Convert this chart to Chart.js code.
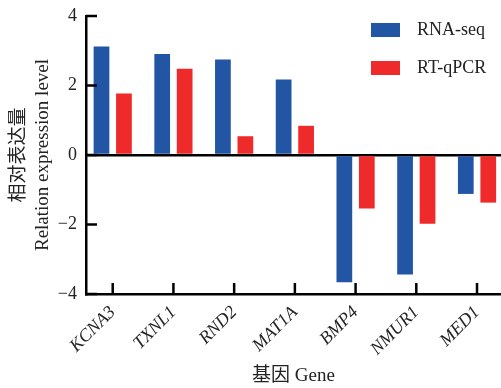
<!DOCTYPE html>
<html>
<head>
<meta charset="utf-8">
<script src="https://cdn.jsdelivr.net/npm/chart.js@4.4.0/dist/chart.umd.min.js"></script>
<style>
  body { margin: 0; background: #fff; }
</style>
</head>
<body>
<canvas id="myChart" width="501" height="388"></canvas>
<script>
// data
let genes = ['KCNA3', 'TXNL1', 'RND2', 'MAT1A', 'BMP4', 'NMUR1', 'MED1'];
let rnaSeq = [3.12, 2.91, 2.75, 2.17, -3.66, -3.44, -1.12];
let rtqPCR = [1.77, 2.48, 0.54, 0.84, -1.54, -1.98, -1.37];
let yTicks = [-4, -2, 0, 2, 4];
let seriesNames = ['RNA-seq', 'RT-qPCR'];
let seriesColors = ['#2255a4', '#ee2a2a'];

let serif = "'Liberation Serif', 'Noto Sans CJK SC', serif";

// tick marks pointing into the plot
let innerTicks = {
  id: 'innerTicks',
  afterDraw(chart) {
    let ctx = chart.ctx;
    let area = chart.chartArea;
    let x = chart.scales.x;
    let y = chart.scales.y;
    ctx.save();
    ctx.strokeStyle = '#000';
    ctx.lineWidth = 2.5;
    ctx.beginPath();
    y.ticks.forEach((t) => {
      let py = y.getPixelForValue(t.value);
      ctx.moveTo(area.left, py);
      ctx.lineTo(area.left + 11, py);
    });
    x.ticks.forEach((t) => {
      let px = x.getPixelForValue(t.value);
      ctx.moveTo(px, area.bottom);
      ctx.lineTo(px, area.bottom - 11);
    });
    ctx.stroke();
    ctx.restore();
  }
};

// legend in the top right corner of the plot
let cornerLegend = {
  id: 'cornerLegend',
  afterDraw(chart) {
    let ctx = chart.ctx;
    let area = chart.chartArea;
    ctx.save();
    ctx.font = '18px ' + serif;
    ctx.textBaseline = 'middle';
    chart.data.datasets.forEach((ds, i) => {
      let bx = area.right - 130;
      let by = area.top + 7 + i * 38;
      ctx.fillStyle = ds.backgroundColor;
      ctx.fillRect(bx, by, 29, 14);
      ctx.fillStyle = '#222';
      ctx.fillText(ds.label, bx + 46, by + 7);
    });
    ctx.restore();
  }
};

function points(values) {
  return values.map((v, i) => ({ x: i, y: v }));
}

var data = {
  datasets: [
    {
      label: seriesNames[0],
      data: points(rnaSeq),
      backgroundColor: seriesColors[0],
      categoryPercentage: 0.74,
      barPercentage: 0.7
    },
    {
      label: seriesNames[1],
      data: points(rtqPCR),
      backgroundColor: seriesColors[1],
      categoryPercentage: 0.74,
      barPercentage: 0.7
    }
  ]
};

var options = {
  responsive: false,
  animation: false,
  layout: { padding: { top: 16, right: 0, left: 0, bottom: 0 } },
  plugins: {
    legend: { display: false },
    tooltip: { enabled: false }
  },
  scales: {
    x: {
      type: 'linear',
      position: 'bottom',
      min: -0.44,
      max: 6.395,
      offset: false,
      grid: { display: false, offset: false },
      border: { color: '#000', width: 2.5 },
      afterFit: (s) => { s.height = 94; },
      ticks: {
        stepSize: 1,
        includeBounds: false,
        autoSkip: false,
        minRotation: 45,
        maxRotation: 45,
        padding: 0,
        color: '#222',
        font: { family: serif, size: 18, style: 'italic' },
        callback: (v) => genes[v] || ''
      },
      title: {
        display: true,
        text: '基因 Gene',
        color: '#222',
        font: { family: serif, size: 19 },
        padding: { top: 0, bottom: 1 }
      }
    },
    y: {
      min: -4,
      max: 4,
      afterFit: (s) => {
        s.width = 86;
        s.paddingTop = 0;
        s.paddingBottom = 0;
      },
      afterBuildTicks: (s) => { s.ticks = yTicks.map((v) => ({ value: v })); },
      border: { color: '#000', width: 2.5 },
      grid: {
        drawTicks: false,
        lineWidth: 2.5,
        color: (c) => (c.tick && c.tick.value === 0 ? '#000' : 'rgba(0,0,0,0)')
      },
      ticks: {
        padding: 9,
        color: '#222',
        font: { family: serif, size: 18 },
        callback: (v) => (v < 0 ? '\u2212' + Math.abs(v) : '' + v)
      },
      title: {
        display: true,
        text: ['相对表达量', 'Relation expression level'],
        color: '#222',
        font: { family: serif, size: 19, lineHeight: 1.27 },
        padding: { top: 7, bottom: 0 }
      }
    }
  }
};

var ctx = document.getElementById('myChart');
var myChart = new Chart(ctx, {
  type: 'bar',
  data: data,
  options: options,
  plugins: [innerTicks, cornerLegend]
});
</script>
</body>
</html>
